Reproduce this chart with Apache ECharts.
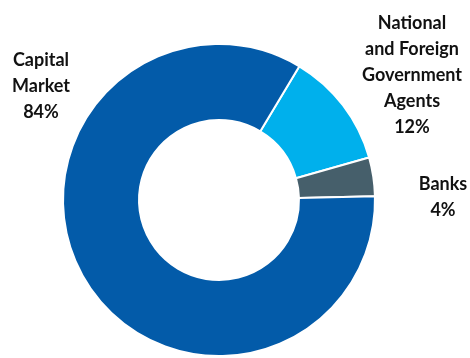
<!DOCTYPE html>
<html>
<head>
<meta charset="utf-8">
<script src="https://cdn.jsdelivr.net/npm/echarts@6/dist/echarts.min.js"></script>
<style>
    html, body { margin: 0; padding: 0; background: #fff; }
    #chart { width: 470px; height: 358px; }
</style>
</head>
<body>
<div id="chart"></div>
<script>
'use strict';

// slices, in drawing order (clockwise from the top of the light blue slice)
const categories = ['National\nand Foreign\nGovernment\nAgents', 'Banks', 'Capital\nMarket'];
const shares = [12, 4, 84];
const colors = ['#00b0ec', '#465f6b', '#035ba9'];

// where each label sits (centre of the text block)
const labelPos = [[412, 75], [443, 197], [41, 86]];

const chart = echarts.init(document.getElementById('chart'), null, { renderer: 'canvas' });

chart.setOption({
    animation: false,
    series: [{
        type: 'pie',
        center: [219, 200],
        radius: [80, 156],
        startAngle: 59,
        clockwise: true,
        data: categories.map((name, i) => ({
            name: name,
            value: shares[i],
            itemStyle: { color: colors[i] }
        })),
        itemStyle: { borderColor: '#fff', borderWidth: 2 },
        label: {
            show: true,
            formatter: (p) => p.name + '\n' + p.value + '%',
            fontFamily: 'Lato',
            fontWeight: 'bold',
            fontSize: 18,
            lineHeight: 26,
            color: '#111',
            align: 'center',
            overflow: 'none'
        },
        labelLine: { show: false },
        labelLayout: (params) => ({
            x: labelPos[params.dataIndex][0],
            y: labelPos[params.dataIndex][1],
            align: 'center',
            verticalAlign: 'middle',
            width: 140
        }),
        emphasis: { disabled: true }
    }]
});
</script>
</body>
</html>
